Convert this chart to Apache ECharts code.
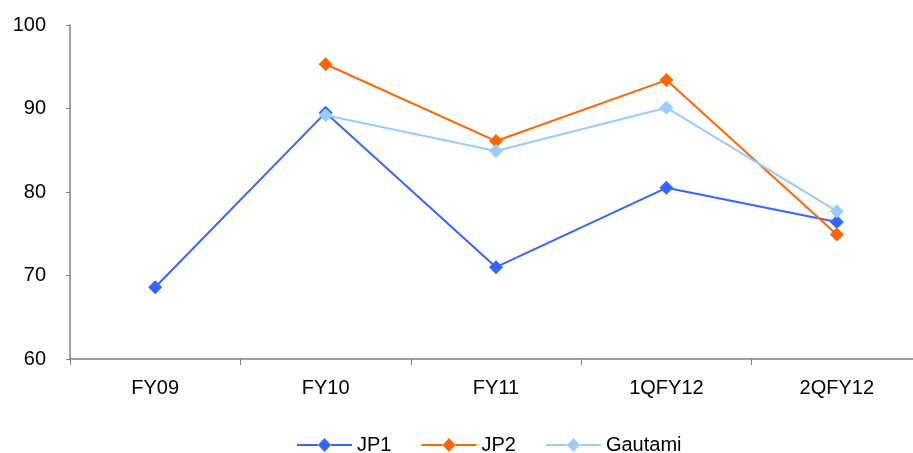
<!DOCTYPE html>
<html><head><meta charset="utf-8">
<script src="https://cdn.jsdelivr.net/npm/echarts@6/dist/echarts.min.js"></script>
<style>html,body{margin:0;padding:0;background:#fff;overflow:hidden}#c{width:913px;height:453px}</style>
</head><body><div id="c"></div>
<script>
const categories = ['FY09','FY10','FY11','1QFY12','2QFY12'];
const jp1 = [68.6, 89.5, 71.0, 80.5, 76.4];
const jp2 = [null, 95.3, 86.1, 93.4, 74.9];
const gautami = [null, 89.2, 84.9, 90.1, 77.7];
const yTicks = [60, 70, 80, 90, 100];

const chart = echarts.init(document.getElementById('c'));
const font = 'Liberation Sans, Arial, sans-serif';
const legendIcon = 'path://M0,6L21,6L21,8L0,8Z M21,7L27.5,0L34,7L27.5,14Z M34,6L55,6L55,8L34,8Z';
function ser(name, data, color) {
  return {
    name, type: 'line', data, symbol: 'diamond', symbolSize: 14,
    lineStyle: { color, width: 2 }, itemStyle: { color },
    connectNulls: false, animation: false
  };
}
chart.setOption({
  animation: false,
  grid: { left: 70, width: 852, top: 25, bottom: 94, outerBoundsMode: 'none', containLabel: false },
  legend: {
    top: 430, left: 292, itemWidth: 55, itemHeight: 14, itemGap: 30,
    icon: legendIcon,
    textStyle: { fontFamily: font, fontSize: 20, color: '#000' },
    data: ['JP1', 'JP2', 'Gautami']
  },
  xAxis: {
    type: 'category', data: categories, boundaryGap: true,
    axisLine: { lineStyle: { color: '#808080', width: 1.5 } },
    axisTick: { show: true, length: 6, lineStyle: { color: '#808080' } },
    axisLabel: { fontFamily: font, fontSize: 20, color: '#000', margin: 19 }
  },
  yAxis: {
    type: 'value', min: yTicks[0], max: yTicks[yTicks.length - 1], interval: 10,
    axisLine: { show: true, lineStyle: { color: '#808080', width: 1.5 } },
    axisTick: { show: true, length: 4, lineStyle: { color: '#808080' } },
    splitLine: { show: false },
    axisLabel: { fontFamily: font, fontSize: 20, color: '#000', margin: 24 }
  },
  series: [
    ser('JP1', jp1, '#3366FF'),
    ser('JP2', jp2, '#FF6600'),
    ser('Gautami', gautami, '#99CCFF')
  ]
});
</script></body></html>
